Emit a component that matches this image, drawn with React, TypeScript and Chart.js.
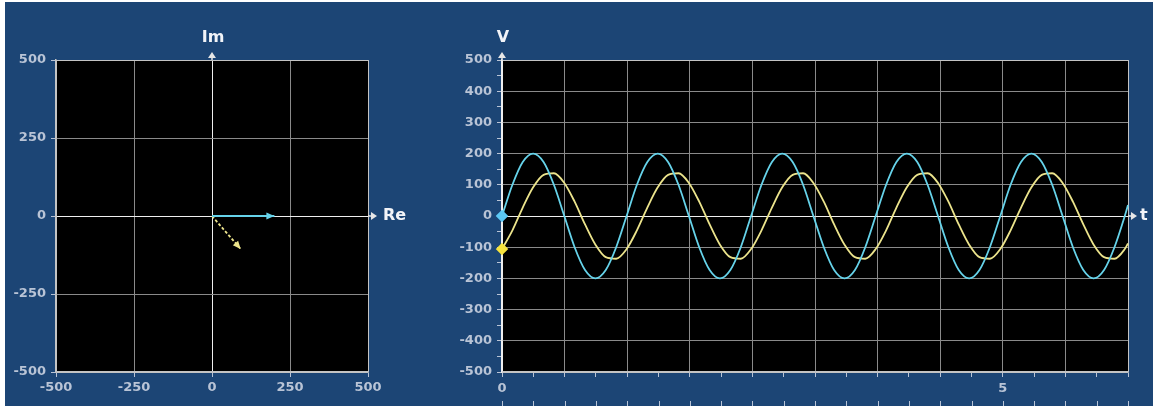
import React, { useEffect, useRef } from "react";
import { Chart, registerables } from "chart.js";
Chart.register(...registerables);

// ---------- data ----------
const T = [
  0, 0.104, 0.207, 0.311, 0.415, 0.518, 0.622, 0.725, 0.829, 0.933, 1.036, 1.14,
  1.244, 1.347, 1.451, 1.555, 1.658, 1.762, 1.866, 1.969, 2.073, 2.176, 2.28, 2.384,
  2.487, 2.591, 2.695, 2.798, 2.902, 3.006, 3.109, 3.213, 3.316, 3.42, 3.524, 3.627,
  3.731, 3.835, 3.938, 4.042, 4.146, 4.249, 4.353, 4.457, 4.56, 4.664, 4.767, 4.871,
  4.975, 5.078, 5.182, 5.286, 5.389, 5.493, 5.597, 5.7, 5.804, 5.907, 6.011, 6.115,
  6.218, 6.25,
];
const V_CYAN = [
  0, 100, 173, 200, 173, 100, 0, -100, -173, -200, -173, -100,
  0, 100, 173, 200, 173, 100, 0, -100, -173, -200, -173, -100,
  0, 100, 173, 200, 173, 100, 0, -100, -173, -200, -173, -100,
  0, 100, 173, 200, 173, 100, 0, -100, -173, -200, -173, -100,
  0, 100, 173, 200, 173, 100, 0, -100, -173, -200, -173, -100,
  0, 35,
];
const V_YELLOW = [
  -106, -46, 27, 92, 132, 137, 106, 46, -27, -92, -132, -137,
  -106, -46, 27, 92, 132, 137, 106, 46, -27, -92, -132, -137,
  -106, -46, 27, 92, 132, 137, 106, 46, -27, -92, -132, -137,
  -106, -46, 27, 92, 132, 137, 106, 46, -27, -92, -132, -137,
  -106, -46, 27, 92, 132, 137, 106, 46, -27, -92, -132, -137,
  -106, -88,
];
const PHASOR_RE = [200, 92];
const PHASOR_IM = [0, -106];
const T_LABELED = [0, 5];
const PHASOR_AXIS_LABELS = ["Im", "Re"];
const WAVE_AXIS_LABELS = ["V", "t"];

// ---------- styles ----------
const BG = "#1c4575";
const CYAN = "#66d3ea";
const YELLOW = "#ece48c";
const CYAN_MARK = "#5cc8f5";
const YELLOW_MARK = "#f5e23e";
const TICK_COLOR = "#b9c4d6";
const GRID = "#8a8a8a";
const EDGE = "#c4c4c4";
const ZERO = "#eeeeee";
const FONT = "'DejaVu Sans', Verdana, sans-serif";
const TICK_FONT = { family: FONT, size: 13, weight: "bold" as const };

const plotBg = {
  id: "plotBg",
  beforeDraw(chart: any) {
    const { ctx, chartArea } = chart;
    ctx.save();
    ctx.fillStyle = "#000";
    ctx.fillRect(chartArea.left, chartArea.top, chartArea.right - chartArea.left, chartArea.bottom - chartArea.top);
    ctx.restore();
  },
};

function makeAxisArrows(yLabel: string, xLabel: string, xLabelGap: number) {
  return {
    id: "axisArrows",
    afterDraw(chart: any) {
      const { ctx, chartArea } = chart;
      const x0 = chart.scales.x.getPixelForValue(0);
      const y0 = chart.scales.y.getPixelForValue(0);
      const top = chartArea.top;
      const right = chartArea.right;
      ctx.save();
      ctx.strokeStyle = "#e6e6e6";
      ctx.fillStyle = "#e6e6e6";
      ctx.lineWidth = 1.5;
      ctx.beginPath();
      ctx.moveTo(x0, top);
      ctx.lineTo(x0, top - 5);
      ctx.moveTo(right, y0);
      ctx.lineTo(right + 5, y0);
      ctx.stroke();
      ctx.beginPath();
      ctx.moveTo(x0, top - 8);
      ctx.lineTo(x0 - 4, top - 2);
      ctx.lineTo(x0 + 4, top - 2);
      ctx.closePath();
      ctx.fill();
      ctx.beginPath();
      ctx.moveTo(right + 9, y0);
      ctx.lineTo(right + 3, y0 - 4);
      ctx.lineTo(right + 3, y0 + 4);
      ctx.closePath();
      ctx.fill();
      ctx.fillStyle = "#f2f4f8";
      ctx.font = `bold 16px ${FONT}`;
      ctx.textAlign = "center";
      ctx.textBaseline = "middle";
      ctx.fillText(yLabel, x0 + 1, top - 22);
      ctx.textAlign = "left";
      ctx.fillText(xLabel, right + xLabelGap, y0);
      ctx.restore();
    },
  };
}

const arrowHeads = {
  id: "arrowHeads",
  afterDatasetsDraw(chart: any) {
    const { ctx } = chart;
    chart.data.datasets.forEach((ds: any, i: number) => {
      const pts = chart.getDatasetMeta(i).data;
      if (pts.length < 2) return;
      const p0 = pts[pts.length - 2];
      const p1 = pts[pts.length - 1];
      const a = Math.atan2(p1.y - p0.y, p1.x - p0.x);
      const L = 8;
      const W = 3.5;
      ctx.save();
      ctx.fillStyle = ds.borderColor;
      ctx.beginPath();
      ctx.moveTo(p1.x, p1.y);
      ctx.lineTo(p1.x - L * Math.cos(a) + W * Math.sin(a), p1.y - L * Math.sin(a) - W * Math.cos(a));
      ctx.lineTo(p1.x - L * Math.cos(a) - W * Math.sin(a), p1.y - L * Math.sin(a) + W * Math.cos(a));
      ctx.closePath();
      ctx.fill();
      ctx.restore();
    });
  },
};

const bottomTicks = {
  id: "bottomTicks",
  afterDraw(chart: any) {
    const { ctx } = chart;
    const xs = chart.scales.x;
    ctx.save();
    ctx.strokeStyle = TICK_COLOR;
    ctx.lineWidth = 1;
    ctx.beginPath();
    xs.ticks.forEach((t: any) => {
      const px = Math.round(xs.getPixelForValue(t.value)) + 0.5;
      ctx.moveTo(px, chart.height - 5);
      ctx.lineTo(px, chart.height);
    });
    ctx.stroke();
    ctx.restore();
  },
};

function gridColor(min: number, max: number, minorStep: number | null) {
  return (c: any) => {
    const v = c.tick ? c.tick.value : 0;
    if (Math.abs(v) < 1e-9) return ZERO;
    if (minorStep !== null && Math.abs(v / minorStep - Math.round(v / minorStep)) > 1e-6) return "rgba(0,0,0,0)";
    if (v === min || Math.abs(v - max) < 1e-9) return EDGE;
    return GRID;
  };
}

function leftConfig(): any {
  return {
    type: "line",
    data: {
      datasets: PHASOR_RE.map((re, i) => ({
        data: [
          { x: 0, y: 0 },
          { x: re, y: PHASOR_IM[i] },
        ],
        borderColor: i === 0 ? CYAN : YELLOW,
        borderWidth: 1.8,
        borderDash: i === 0 ? [] : [3, 2],
        pointRadius: 0,
      })),
    },
    options: {
      animation: false,
      responsive: true,
      maintainAspectRatio: false,
      events: [],
      layout: { padding: { left: 0, right: 52, top: 60, bottom: 10 } },
      plugins: { legend: { display: false }, tooltip: { enabled: false } },
      scales: {
        x: {
          type: "linear",
          min: -500,
          max: 500,
          ticks: { stepSize: 250, color: TICK_COLOR, font: TICK_FONT, padding: 3, maxRotation: 0, autoSkip: false },
          grid: { color: gridColor(-500, 500, null), tickColor: TICK_COLOR, tickLength: 5, lineWidth: 1 },
          border: { color: EDGE, width: 1.5 },
          afterFit: (s: any) => { s.height = 24; },
        },
        y: {
          type: "linear",
          min: -500,
          max: 500,
          ticks: { stepSize: 250, color: TICK_COLOR, font: TICK_FONT, padding: 5, autoSkip: false },
          grid: { color: gridColor(-500, 500, null), tickColor: TICK_COLOR, tickLength: 5, lineWidth: 1 },
          border: { color: EDGE, width: 1.5 },
          afterFit: (s: any) => { s.width = 56; },
        },
      },
    },
    plugins: [plotBg, makeAxisArrows(PHASOR_AXIS_LABELS[0], PHASOR_AXIS_LABELS[1], 15), arrowHeads],
  };
}

function rightConfig(): any {
  const series = [
    { values: V_CYAN, color: CYAN, mark: CYAN_MARK },
    { values: V_YELLOW, color: YELLOW, mark: YELLOW_MARK },
  ];
  return {
    type: "line",
    data: {
      datasets: series.map((s) => ({
        data: T.map((t, i) => ({ x: t, y: s.values[i] })),
        borderColor: s.color,
        borderWidth: 1.8,
        cubicInterpolationMode: "monotone",
        pointStyle: "rectRot",
        pointRadius: (c: any) => (c.dataIndex === 0 ? 5 : 0),
        pointBackgroundColor: s.mark,
        pointBorderColor: s.mark,
        clip: false,
      })),
    },
    options: {
      animation: false,
      responsive: true,
      maintainAspectRatio: false,
      events: [],
      layout: { padding: { left: 0, right: 25, top: 60, bottom: 10 } },
      plugins: { legend: { display: false }, tooltip: { enabled: false } },
      scales: {
        x: {
          type: "linear",
          min: 0,
          max: 6.25,
          ticks: {
            stepSize: 0.3125,
            color: TICK_COLOR,
            font: TICK_FONT,
            padding: 4,
            maxRotation: 0,
            autoSkip: false,
            callback: (v: number) => {
              const hit = T_LABELED.find((t) => Math.abs(t - v) < 1e-6);
              return hit === undefined ? "" : String(hit);
            },
          },
          grid: { color: gridColor(0, 6.25, 0.625), tickColor: TICK_COLOR, tickLength: 5, lineWidth: 1 },
          border: { color: EDGE, width: 1.5 },
          afterFit: (s: any) => { s.height = 24; },
        },
        y: {
          type: "linear",
          min: -500,
          max: 500,
          ticks: {
            stepSize: 50,
            color: TICK_COLOR,
            font: TICK_FONT,
            padding: 5,
            autoSkip: false,
            callback: (v: number) => (v % 100 === 0 ? String(v) : ""),
          },
          grid: { color: gridColor(-500, 500, 100), tickColor: TICK_COLOR, tickLength: 5, lineWidth: 1 },
          border: { color: ZERO, width: 1.5 },
          afterFit: (s: any) => { s.width = 62; },
        },
      },
    },
    plugins: [plotBg, makeAxisArrows(WAVE_AXIS_LABELS[0], WAVE_AXIS_LABELS[1], 12), bottomTicks],
  };
}

export default function App() {
  const leftRef = useRef<HTMLCanvasElement>(null);
  const rightRef = useRef<HTMLCanvasElement>(null);
  useEffect(() => {
    const c1 = new Chart(leftRef.current as HTMLCanvasElement, leftConfig());
    const c2 = new Chart(rightRef.current as HTMLCanvasElement, rightConfig());
    return () => {
      c1.destroy();
      c2.destroy();
    };
  }, []);
  return (
    <div style={{ position: "fixed", left: 0, top: 0, width: 1153, height: 406, background: "#fff", overflow: "hidden" }}>
      <div style={{ position: "absolute", left: 5, top: 2, right: 0, bottom: 0, background: BG }} />
      <div style={{ position: "absolute", left: 0, top: 0, width: 420, height: 406 }}>
        <canvas ref={leftRef} />
      </div>
      <div style={{ position: "absolute", left: 440, top: 0, width: 713, height: 406 }}>
        <canvas ref={rightRef} />
      </div>
    </div>
  );
}
